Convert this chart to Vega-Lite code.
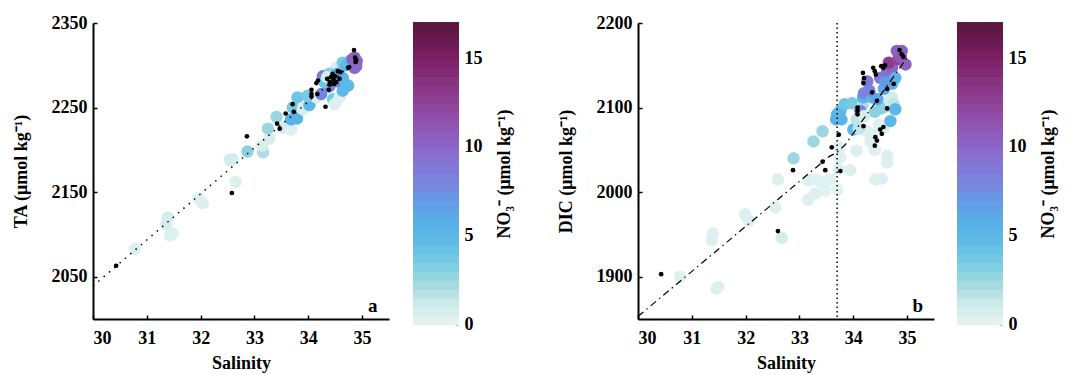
{
  "$schema": "https://vega.github.io/schema/vega-lite/v6.json",
  "background": "white",
  "padding": {"left": 12, "top": 14, "right": 2, "bottom": 4},
  "config": {
    "font": "Liberation Serif",
    "view": {"stroke": null},
    "axis": {
      "grid": false, "domainColor": "black", "domainWidth": 2, "tickColor": "black", "tickWidth": 1.5,
      "tickSize": -4, "labelFont": "Liberation Serif", "labelFontWeight": "bold", "labelFontSize": 18, "labelColor": "black",
      "titleFont": "Liberation Serif", "titleFontWeight": "bold", "titleFontSize": 18, "titleColor": "black"
    }
  },
  "datasets": {
    "ta": [
      {"S": 30.78, "TA": 2083, "NO3": 0.5}, {"S": 31.36, "TA": 2112, "NO3": 1}, {"S": 31.39, "TA": 2120, "NO3": 1},
      {"S": 31.43, "TA": 2099, "NO3": 0.5}, {"S": 31.48, "TA": 2101, "NO3": 0.5}, {"S": 31.96, "TA": 2143, "NO3": 0.5},
      {"S": 32.04, "TA": 2137, "NO3": 0.5}, {"S": 32.54, "TA": 2188, "NO3": 1}, {"S": 32.59, "TA": 2189, "NO3": 1},
      {"S": 32.65, "TA": 2162, "NO3": 0.5}, {"S": 32.87, "TA": 2198, "NO3": 3}, {"S": 33.16, "TA": 2197, "NO3": 2},
      {"S": 33.14, "TA": 2205, "NO3": 0.8}, {"S": 33.27, "TA": 2213, "NO3": 0.8}, {"S": 33.25, "TA": 2225, "NO3": 2.5},
      {"S": 33.41, "TA": 2239, "NO3": 2.5}, {"S": 33.53, "TA": 2226, "NO3": 1}, {"S": 33.68, "TA": 2224, "NO3": 0.5},
      {"S": 33.68, "TA": 2236, "NO3": 5.5}, {"S": 33.79, "TA": 2237, "NO3": 5.5}, {"S": 33.71, "TA": 2250, "NO3": 3.5},
      {"S": 33.80, "TA": 2262, "NO3": 4}, {"S": 33.90, "TA": 2248, "NO3": 0.8}, {"S": 34.02, "TA": 2253, "NO3": 5},
      {"S": 33.99, "TA": 2264, "NO3": 3.5}, {"S": 34.15, "TA": 2262, "NO3": 0.5}, {"S": 34.24, "TA": 2266, "NO3": 8},
      {"S": 34.46, "TA": 2260, "NO3": 3.5}, {"S": 34.49, "TA": 2254, "NO3": 0.5}, {"S": 34.58, "TA": 2262, "NO3": 0.5},
      {"S": 34.64, "TA": 2270, "NO3": 5}, {"S": 34.74, "TA": 2276, "NO3": 5}, {"S": 34.27, "TA": 2287, "NO3": 9},
      {"S": 34.39, "TA": 2275, "NO3": 8}, {"S": 34.52, "TA": 2297, "NO3": 0.8}, {"S": 34.64, "TA": 2303, "NO3": 3.5},
      {"S": 34.77, "TA": 2305, "NO3": 4.5}, {"S": 34.86, "TA": 2309, "NO3": 10.5}, {"S": 34.86, "TA": 2297, "NO3": 10.5},
      {"S": 34.39, "TA": 2290, "NO3": 3}, {"S": 34.52, "TA": 2281, "NO3": 8}, {"S": 34.64, "TA": 2285, "NO3": 5},
      {"S": 34.55, "TA": 2290, "NO3": 6}, {"S": 34.30, "TA": 2280, "NO3": 4}, {"S": 34.70, "TA": 2300, "NO3": 5},
      {"S": 34.90, "TA": 2305, "NO3": 10}, {"S": 34.82, "TA": 2307, "NO3": 10.5}, {"S": 34.89, "TA": 2299, "NO3": 10},
      {"S": 34.35, "TA": 2286, "NO3": 1}
    ],
    "taBlack": [
      {"S": 30.43, "TA": 2063}, {"S": 32.58, "TA": 2149}, {"S": 32.86, "TA": 2216}, {"S": 33.42, "TA": 2231},
      {"S": 33.47, "TA": 2225}, {"S": 33.58, "TA": 2243}, {"S": 33.71, "TA": 2254}, {"S": 33.73, "TA": 2245},
      {"S": 34.06, "TA": 2271}, {"S": 34.06, "TA": 2266}, {"S": 34.06, "TA": 2263}, {"S": 34.17, "TA": 2266},
      {"S": 34.15, "TA": 2279}, {"S": 34.18, "TA": 2282}, {"S": 34.32, "TA": 2251}, {"S": 34.38, "TA": 2271},
      {"S": 34.35, "TA": 2284}, {"S": 34.40, "TA": 2280}, {"S": 34.42, "TA": 2286}, {"S": 34.45, "TA": 2290},
      {"S": 34.47, "TA": 2283}, {"S": 34.50, "TA": 2287}, {"S": 34.52, "TA": 2280}, {"S": 34.55, "TA": 2293},
      {"S": 34.48, "TA": 2278}, {"S": 34.40, "TA": 2277}, {"S": 34.58, "TA": 2284}, {"S": 34.60, "TA": 2292},
      {"S": 34.74, "TA": 2297}, {"S": 34.76, "TA": 2298}, {"S": 34.85, "TA": 2318}, {"S": 34.87, "TA": 2309},
      {"S": 34.89, "TA": 2306}, {"S": 34.88, "TA": 2304}
    ],
    "taLine": [{"S": 30.0, "TA": 2039}, {"S": 34.9, "TA": 2306}],
    "taLabel": [{"S": 35.2, "TA": 2015, "label": "a"}],
    "dic": [
      {"S": 30.78, "DIC": 1900, "NO3": 0.5}, {"S": 31.39, "DIC": 1951, "NO3": 0.5}, {"S": 31.37, "DIC": 1943, "NO3": 0.5},
      {"S": 31.46, "DIC": 1886, "NO3": 0.5}, {"S": 31.49, "DIC": 1888, "NO3": 0.5}, {"S": 31.99, "DIC": 1974, "NO3": 0.5},
      {"S": 32.06, "DIC": 1966, "NO3": 0.5}, {"S": 32.55, "DIC": 1982, "NO3": 0.5}, {"S": 32.60, "DIC": 2015, "NO3": 0.5},
      {"S": 32.67, "DIC": 1946, "NO3": 1}, {"S": 32.89, "DIC": 2040, "NO3": 2.5}, {"S": 33.16, "DIC": 1991, "NO3": 0.5},
      {"S": 33.17, "DIC": 2014, "NO3": 0.5}, {"S": 33.29, "DIC": 1998, "NO3": 0.5}, {"S": 33.26, "DIC": 2060, "NO3": 2.5},
      {"S": 33.43, "DIC": 2072, "NO3": 2.5}, {"S": 33.32, "DIC": 2015, "NO3": 0.3}, {"S": 33.42, "DIC": 2011, "NO3": 0.3},
      {"S": 33.48, "DIC": 2002, "NO3": 0.3}, {"S": 33.57, "DIC": 2015, "NO3": 0.3}, {"S": 33.71, "DIC": 2003, "NO3": 0.3},
      {"S": 33.73, "DIC": 2027, "NO3": 0.5}, {"S": 33.76, "DIC": 2041, "NO3": 0.5}, {"S": 33.73, "DIC": 2053, "NO3": 0.5},
      {"S": 33.68, "DIC": 2086, "NO3": 5.5}, {"S": 33.78, "DIC": 2086, "NO3": 5.5}, {"S": 33.70, "DIC": 2092, "NO3": 5.5},
      {"S": 33.76, "DIC": 2096, "NO3": 5}, {"S": 33.84, "DIC": 2104, "NO3": 4}, {"S": 33.98, "DIC": 2105, "NO3": 3.5},
      {"S": 33.94, "DIC": 2026, "NO3": 0.5}, {"S": 34.00, "DIC": 2074, "NO3": 5}, {"S": 34.06, "DIC": 2086, "NO3": 1.5},
      {"S": 34.06, "DIC": 2049, "NO3": 0.5}, {"S": 34.18, "DIC": 2104, "NO3": 2}, {"S": 34.18, "DIC": 2112, "NO3": 5.5},
      {"S": 34.13, "DIC": 2096, "NO3": 8}, {"S": 34.20, "DIC": 2117, "NO3": 8},
      {"S": 34.26, "DIC": 2131, "NO3": 9}, {"S": 34.35, "DIC": 2112, "NO3": 5}, {"S": 34.25, "DIC": 2072, "NO3": 0.5},
      {"S": 34.35, "DIC": 2068, "NO3": 0.5}, {"S": 34.32, "DIC": 2060, "NO3": 0.5}, {"S": 34.40, "DIC": 2050, "NO3": 0.5},
      {"S": 34.40, "DIC": 2095, "NO3": 3}, {"S": 34.52, "DIC": 2099, "NO3": 3}, {"S": 34.58, "DIC": 2101, "NO3": 3},
      {"S": 34.45, "DIC": 2110, "NO3": 6}, {"S": 34.48, "DIC": 2080, "NO3": 0.5}, {"S": 34.57, "DIC": 2076, "NO3": 0.5},
      {"S": 34.41, "DIC": 2015, "NO3": 0.5}, {"S": 34.53, "DIC": 2016, "NO3": 0.5}, {"S": 34.63, "DIC": 2043, "NO3": 0.5},
      {"S": 34.63, "DIC": 2035, "NO3": 0.5}, {"S": 34.68, "DIC": 2108, "NO3": 1}, {"S": 34.72, "DIC": 2112, "NO3": 1},
      {"S": 34.75, "DIC": 2104, "NO3": 1.5}, {"S": 34.78, "DIC": 2098, "NO3": 5}, {"S": 34.69, "DIC": 2084, "NO3": 5},
      {"S": 34.57, "DIC": 2122, "NO3": 6}, {"S": 34.57, "DIC": 2135, "NO3": 5.5}, {"S": 34.50, "DIC": 2135, "NO3": 9},
      {"S": 34.63, "DIC": 2143, "NO3": 9.5}, {"S": 34.72, "DIC": 2147, "NO3": 10}, {"S": 34.66, "DIC": 2153, "NO3": 13},
      {"S": 34.84, "DIC": 2157, "NO3": 12.5}, {"S": 34.90, "DIC": 2167, "NO3": 10.5}, {"S": 34.81, "DIC": 2167, "NO3": 10.5},
      {"S": 34.97, "DIC": 2151, "NO3": 10.5}, {"S": 34.78, "DIC": 2135, "NO3": 5.5}, {"S": 34.72, "DIC": 2128, "NO3": 5.5},
      {"S": 34.60, "DIC": 2130, "NO3": 7}, {"S": 34.88, "DIC": 2160, "NO3": 11}, {"S": 34.30, "DIC": 2120, "NO3": 8},
      {"S": 34.20, "DIC": 2090, "NO3": 1}, {"S": 34.10, "DIC": 2075, "NO3": 1.5}
    ],
    "dicBlack": [
      {"S": 30.43, "DIC": 1903}, {"S": 32.60, "DIC": 1954}, {"S": 32.88, "DIC": 2026}, {"S": 33.43, "DIC": 2036},
      {"S": 33.48, "DIC": 2026}, {"S": 33.60, "DIC": 2053}, {"S": 33.73, "DIC": 2068}, {"S": 33.76, "DIC": 2025},
      {"S": 34.08, "DIC": 2100}, {"S": 34.08, "DIC": 2096}, {"S": 34.08, "DIC": 2092}, {"S": 34.19, "DIC": 2078},
      {"S": 34.20, "DIC": 2135}, {"S": 34.19, "DIC": 2129}, {"S": 34.18, "DIC": 2141}, {"S": 34.37, "DIC": 2147},
      {"S": 34.40, "DIC": 2143}, {"S": 34.42, "DIC": 2139}, {"S": 34.35, "DIC": 2118}, {"S": 34.44, "DIC": 2108},
      {"S": 34.41, "DIC": 2065}, {"S": 34.44, "DIC": 2061}, {"S": 34.40, "DIC": 2055}, {"S": 34.50, "DIC": 2074},
      {"S": 34.53, "DIC": 2069}, {"S": 34.56, "DIC": 2077}, {"S": 34.52, "DIC": 2149}, {"S": 34.56, "DIC": 2147},
      {"S": 34.59, "DIC": 2150}, {"S": 34.63, "DIC": 2099}, {"S": 34.63, "DIC": 2122}, {"S": 34.75, "DIC": 2128},
      {"S": 34.86, "DIC": 2168}, {"S": 34.90, "DIC": 2163}, {"S": 34.93, "DIC": 2160}
    ],
    "dicLine": [{"S": 30.0, "DIC": 1853}, {"S": 33.55, "DIC": 2042}, {"S": 33.7, "DIC": 2047}, {"S": 33.85, "DIC": 2056}, {"S": 35.0, "DIC": 2159}],
    "dicRule": [{"S": 33.7}],
    "dicLabel": [{"S": 35.2, "DIC": 1865, "label": "b"}],
    "cbar": [
      {"lo": 0, "hi": 0.5, "mid": 0.25}, {"lo": 0.5, "hi": 1, "mid": 0.75}, {"lo": 1, "hi": 1.5, "mid": 1.25}, {"lo": 1.5, "hi": 2, "mid": 1.75},
      {"lo": 2, "hi": 2.5, "mid": 2.25}, {"lo": 2.5, "hi": 3, "mid": 2.75}, {"lo": 3, "hi": 3.5, "mid": 3.25}, {"lo": 3.5, "hi": 4, "mid": 3.75},
      {"lo": 4, "hi": 4.5, "mid": 4.25}, {"lo": 4.5, "hi": 5, "mid": 4.75}, {"lo": 5, "hi": 5.5, "mid": 5.25}, {"lo": 5.5, "hi": 6, "mid": 5.75},
      {"lo": 6, "hi": 6.5, "mid": 6.25}, {"lo": 6.5, "hi": 7, "mid": 6.75}, {"lo": 7, "hi": 7.5, "mid": 7.25}, {"lo": 7.5, "hi": 8, "mid": 7.75},
      {"lo": 8, "hi": 8.5, "mid": 8.25}, {"lo": 8.5, "hi": 9, "mid": 8.75}, {"lo": 9, "hi": 9.5, "mid": 9.25}, {"lo": 9.5, "hi": 10, "mid": 9.75},
      {"lo": 10, "hi": 10.5, "mid": 10.25}, {"lo": 10.5, "hi": 11, "mid": 10.75}, {"lo": 11, "hi": 11.5, "mid": 11.25}, {"lo": 11.5, "hi": 12, "mid": 11.75},
      {"lo": 12, "hi": 12.5, "mid": 12.25}, {"lo": 12.5, "hi": 13, "mid": 12.75}, {"lo": 13, "hi": 13.5, "mid": 13.25}, {"lo": 13.5, "hi": 14, "mid": 13.75},
      {"lo": 14, "hi": 14.5, "mid": 14.25}, {"lo": 14.5, "hi": 15, "mid": 14.75}, {"lo": 15, "hi": 15.5, "mid": 15.25}, {"lo": 15.5, "hi": 16, "mid": 15.75},
      {"lo": 16, "hi": 16.5, "mid": 16.25}, {"lo": 16.5, "hi": 17, "mid": 16.75}
    ]
  },
  "spacing": 43,
  "hconcat": [
    {
      "spacing": 23,
      "hconcat": [
        {
          "width": 296, "height": 296,
          "layer": [
            {
              "data": {"name": "ta"},
              "mark": {"type": "circle", "size": 155, "opacity": 1},
              "encoding": {
                "x": {"field": "S", "type": "quantitative", "title": "Salinity", "scale": {"domain": [30, 35.5], "nice": false}, "axis": {"values": [30, 31, 32, 33, 34, 35], "format": "d", "labelPadding": 14, "titlePadding": 7}},
                "y": {"field": "TA", "type": "quantitative", "title": "TA (μmol kg⁻¹)", "scale": {"domain": [2000, 2350], "nice": false, "zero": false}, "axis": {"values": [2050, 2150, 2250, 2350], "format": "d", "labelPadding": 10, "titlePadding": 21}},
                "color": {
                  "field": "NO3", "type": "quantitative", "legend": null,
                  "scale": {"domain": [0, 1, 2.2, 3.5, 5, 6.4, 7.8, 9.75, 11.6, 13.5, 15.4, 17], "range": ["#e6f4f3", "#d3ecec", "#a6dbe2", "#79cbe2", "#5cb8e8", "#5ea6e8", "#7688e0", "#8a6ccc", "#9050ad", "#8a3483", "#761c5e", "#5a173c"]}
                }
              }
            },
            {
              "data": {"name": "taLine"},
              "mark": {"type": "line", "color": "black", "strokeWidth": 1.5, "strokeDash": [1.5, 5.5]},
              "encoding": {"x": {"field": "S", "type": "quantitative"}, "y": {"field": "TA", "type": "quantitative"}}
            },
            {
              "data": {"name": "taBlack"},
              "mark": {"type": "circle", "size": 22, "color": "black", "opacity": 1},
              "encoding": {"x": {"field": "S", "type": "quantitative"}, "y": {"field": "TA", "type": "quantitative"}}
            },
            {
              "data": {"name": "taLabel"},
              "mark": {"type": "text", "font": "Liberation Serif", "fontWeight": "bold", "fontSize": 19, "color": "black"},
              "encoding": {"x": {"field": "S", "type": "quantitative"}, "y": {"field": "TA", "type": "quantitative"}, "text": {"field": "label"}}
            }
          ]
        },
        {
          "width": 44, "height": 301,
          "view": {"stroke": "black", "strokeWidth": 2},
          "data": {"name": "cbar"},
          "mark": {"type": "rect", "strokeWidth": 2},
          "encoding": {
            "y": {"field": "lo", "type": "quantitative", "scale": {"domain": [0, 17], "nice": false, "zero": false}, "axis": {"orient": "right", "values": [0, 5, 10, 15], "title": "NO₃⁻ (μmol kg⁻¹)", "titleAngle": 270, "domain": false, "tickSize": -3, "labelPadding": 9, "titlePadding": 31}},
            "y2": {"field": "hi"},
            "color": {"field": "mid", "type": "quantitative", "legend": null,
              "scale": {"domain": [0, 1, 2.2, 3.5, 5, 6.4, 7.8, 9.75, 11.6, 13.5, 15.4, 17], "range": ["#e6f4f3", "#d3ecec", "#a6dbe2", "#79cbe2", "#5cb8e8", "#5ea6e8", "#7688e0", "#8a6ccc", "#9050ad", "#8a3483", "#761c5e", "#5a173c"]}},
            "stroke": {"field": "mid", "type": "quantitative", "legend": null,
              "scale": {"domain": [0, 1, 2.2, 3.5, 5, 6.4, 7.8, 9.75, 11.6, 13.5, 15.4, 17], "range": ["#e6f4f3", "#d3ecec", "#a6dbe2", "#79cbe2", "#5cb8e8", "#5ea6e8", "#7688e0", "#8a6ccc", "#9050ad", "#8a3483", "#761c5e", "#5a173c"]}}
          }
        }
      ]
    },
    {
      "spacing": 22,
      "hconcat": [
        {
          "width": 296, "height": 296,
          "layer": [
            {
              "data": {"name": "dic"},
              "mark": {"type": "circle", "size": 155, "opacity": 1},
              "encoding": {
                "x": {"field": "S", "type": "quantitative", "title": "Salinity", "scale": {"domain": [30, 35.5], "nice": false}, "axis": {"values": [30, 31, 32, 33, 34, 35], "format": "d", "labelPadding": 14, "titlePadding": 7}},
                "y": {"field": "DIC", "type": "quantitative", "title": "DIC (μmol kg⁻¹)", "scale": {"domain": [1850, 2200], "nice": false, "zero": false}, "axis": {"values": [1900, 2000, 2100, 2200], "format": "d", "labelPadding": 10, "titlePadding": 21}},
                "color": {
                  "field": "NO3", "type": "quantitative", "legend": null,
                  "scale": {"domain": [0, 1, 2.2, 3.5, 5, 6.4, 7.8, 9.75, 11.6, 13.5, 15.4, 17], "range": ["#e6f4f3", "#d3ecec", "#a6dbe2", "#79cbe2", "#5cb8e8", "#5ea6e8", "#7688e0", "#8a6ccc", "#9050ad", "#8a3483", "#761c5e", "#5a173c"]}
                }
              }
            },
            {
              "data": {"name": "dicRule"},
              "mark": {"type": "rule", "color": "black", "strokeWidth": 1.5, "strokeDash": [1.5, 3]},
              "encoding": {"x": {"field": "S", "type": "quantitative"}}
            },
            {
              "data": {"name": "dicLine"},
              "mark": {"type": "line", "color": "black", "strokeWidth": 1.2, "strokeDash": [7, 4, 1.5, 4]},
              "encoding": {"x": {"field": "S", "type": "quantitative"}, "y": {"field": "DIC", "type": "quantitative"}}
            },
            {
              "data": {"name": "dicBlack"},
              "mark": {"type": "circle", "size": 22, "color": "black", "opacity": 1},
              "encoding": {"x": {"field": "S", "type": "quantitative"}, "y": {"field": "DIC", "type": "quantitative"}}
            },
            {
              "data": {"name": "dicLabel"},
              "mark": {"type": "text", "font": "Liberation Serif", "fontWeight": "bold", "fontSize": 19, "color": "black"},
              "encoding": {"x": {"field": "S", "type": "quantitative"}, "y": {"field": "DIC", "type": "quantitative"}, "text": {"field": "label"}}
            }
          ]
        },
        {
          "width": 44, "height": 301,
          "view": {"stroke": "black", "strokeWidth": 2},
          "data": {"name": "cbar"},
          "mark": {"type": "rect", "strokeWidth": 2},
          "encoding": {
            "y": {"field": "lo", "type": "quantitative", "scale": {"domain": [0, 17], "nice": false, "zero": false}, "axis": {"orient": "right", "values": [0, 5, 10, 15], "title": "NO₃⁻ (μmol kg⁻¹)", "titleAngle": 270, "domain": false, "tickSize": -3, "labelPadding": 9, "titlePadding": 31}},
            "y2": {"field": "hi"},
            "color": {"field": "mid", "type": "quantitative", "legend": null,
              "scale": {"domain": [0, 1, 2.2, 3.5, 5, 6.4, 7.8, 9.75, 11.6, 13.5, 15.4, 17], "range": ["#e6f4f3", "#d3ecec", "#a6dbe2", "#79cbe2", "#5cb8e8", "#5ea6e8", "#7688e0", "#8a6ccc", "#9050ad", "#8a3483", "#761c5e", "#5a173c"]}},
            "stroke": {"field": "mid", "type": "quantitative", "legend": null,
              "scale": {"domain": [0, 1, 2.2, 3.5, 5, 6.4, 7.8, 9.75, 11.6, 13.5, 15.4, 17], "range": ["#e6f4f3", "#d3ecec", "#a6dbe2", "#79cbe2", "#5cb8e8", "#5ea6e8", "#7688e0", "#8a6ccc", "#9050ad", "#8a3483", "#761c5e", "#5a173c"]}}
          }
        }
      ]
    }
  ]
}
